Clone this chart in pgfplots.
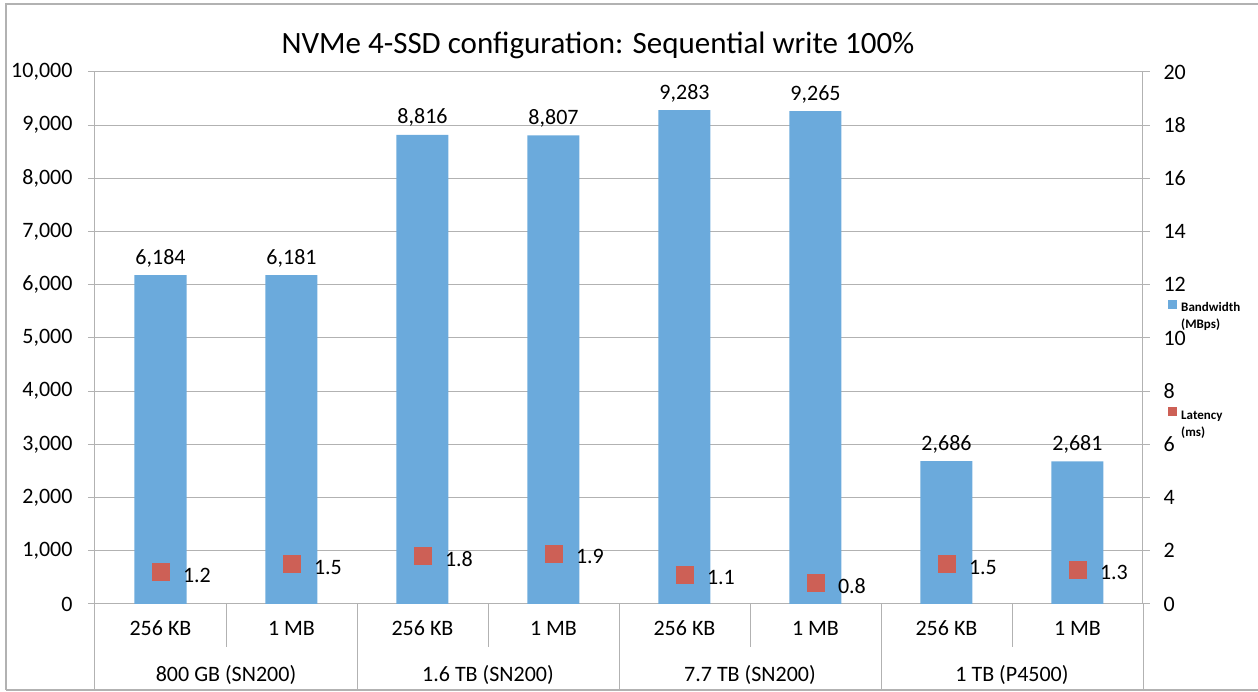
\documentclass[border=0pt]{standalone}
\usepackage{pgfplots}
\pgfplotsset{compat=1.18}
\usepackage{fontspec}
\setmainfont{Carlito}
\definecolor{barblue}{RGB}{107,170,220}
\definecolor{latred}{RGB}{205,96,86}
\definecolor{axgray}{RGB}{178,178,178}
\newcommand{\fs}{\fontsize{22}{26}\selectfont}
\begin{document}
\begin{tikzpicture}[x=1pt,y=1pt]
\useasboundingbox (-95,-88) rectangle (1163,604);
\draw[axgray, line width=1.2pt] (-89,-86) -- (-89,600) -- (1163,600);
\draw[axgray, line width=1.2pt] (-89,-86) -- (1163,-86);
\begin{axis}[
  at={(0,0)}, anchor=south west,
  scale only axis, width=1048pt, height=532pt,
  xmin=-0.5, xmax=7.5, ymin=0, ymax=10000,
  axis y line*=left, axis x line*=bottom,
  axis line style={axgray, line width=1pt, -},
  ytick={0,1000,...,10000},
  scaled y ticks=false,
  ymajorgrids, grid style={axgray, line width=1pt},
  tick align=outside, major tick length=7pt,
  y tick style={axgray, line width=1pt},
  xtick={0,...,7},
  x tick style={draw=none},
  xticklabels={256 KB,1 MB,256 KB,1 MB,256 KB,1 MB,256 KB,1 MB},
  xticklabel style={font=\fs, anchor=center, yshift=-17pt},
  yticklabel style={font=\fs, xshift=-12pt},
  /pgf/number format/1000 sep={,},
  /pgf/number format/assume math mode=true,
  clip=false,
  ybar, bar width=0.397, bar shift=0,
]
\addplot[fill=barblue, draw=none,
  nodes near coords,
  nodes near coords style={font=\fs, text=black, anchor=base, yshift=11pt,
    /pgf/number format/1000 sep={,}}]
  coordinates {(0,6184) (1,6181) (2,8816) (3,8807) (4,9283) (5,9265) (6,2686) (7,2681)};
\node[font=\fs] at (axis cs:0.5,0) [yshift=-71pt] {800 GB (SN200)};
\node[font=\fs] at (axis cs:2.5,0) [yshift=-71pt] {1.6 TB (SN200)};
\node[font=\fs] at (axis cs:4.5,0) [yshift=-71pt] {7.7 TB (SN200)};
\node[font=\fs] at (axis cs:6.5,0) [yshift=-71pt] {1 TB (P4500)};
\end{axis}
\begin{axis}[
  at={(0,0)}, anchor=south west,
  scale only axis, width=1048pt, height=532pt,
  xmin=-0.5, xmax=7.5, ymin=0, ymax=20,
  axis y line*=right, axis x line=none,
  axis line style={axgray, line width=1pt, -},
  ytick={0,2,...,20},
  tick align=outside, major tick length=7pt,
  y tick style={axgray, line width=1pt},
  yticklabel style={font=\fs, xshift=10pt},
  /pgf/number format/assume math mode=true,
  clip=false,
]
\addplot[only marks, mark=square*, mark size=8.5pt,
  mark options={draw=latred, fill=latred},
  nodes near coords,
  nodes near coords style={font=\fs, text=black, anchor=west, xshift=19pt, yshift=-3pt,
    /pgf/number format/.cd, fixed, fixed zerofill, precision=1}]
  coordinates {(0,1.2) (1,1.5) (2,1.8) (3,1.9) (4,1.1) (5,0.8) (6,1.5) (7,1.3)};
\end{axis}
\foreach \k in {0,2,4,6,8} \draw[axgray, line width=1pt] (131*\k,0) -- (131*\k,-86);
\foreach \k in {1,3,5,7} \draw[axgray, line width=1pt] (131*\k,0) -- (131*\k,-43);
\node[font=\fontsize{31}{36}\selectfont] at (503,559) {NVMe 4-SSD configuration: Sequential write 100\%};
\fill[barblue] (1073,295) rectangle (1082,304);
\node[anchor=base west, inner sep=0, font=\bfseries\fontsize{13}{16}\selectfont] at (1086,292) {Bandwidth};
\node[anchor=base west, inner sep=0, font=\bfseries\fontsize{13}{16}\selectfont] at (1086,275) {(MBps)};
\fill[latred] (1073,188) rectangle (1082,197);
\node[anchor=base west, inner sep=0, font=\bfseries\fontsize{13}{16}\selectfont] at (1086,184) {Latency};
\node[anchor=base west, inner sep=0, font=\bfseries\fontsize{13}{16}\selectfont] at (1086,167) {(ms)};
\end{tikzpicture}
\end{document}
